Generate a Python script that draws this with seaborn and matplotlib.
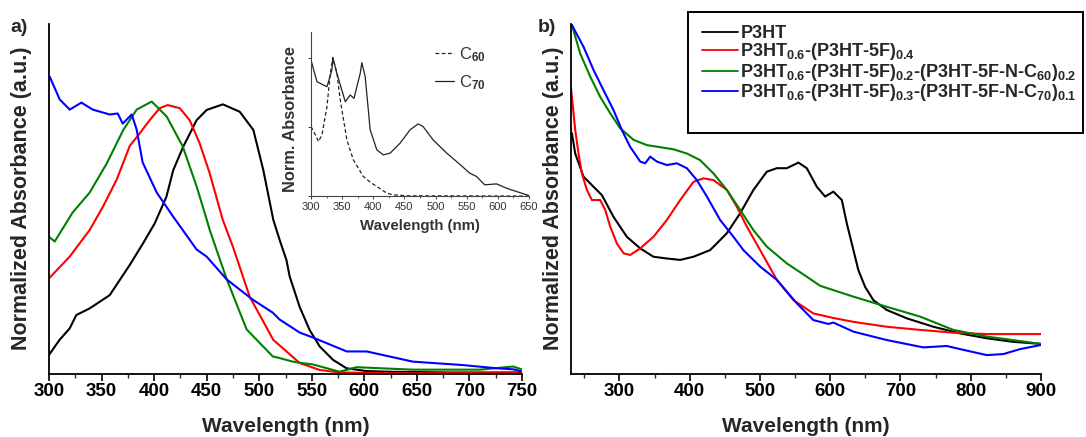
import numpy as np
import pandas as pd
import matplotlib
matplotlib.use("Agg")
import matplotlib.pyplot as plt
import seaborn as sns
from matplotlib.ticker import MultipleLocator
from matplotlib.lines import Line2D
from matplotlib.patches import Rectangle

# ---------------- Panel a data (normalized absorbance) ----------------
a_black_wl = [300, 310, 319.7, 326, 338.7, 357.8, 376.8, 389.5, 400.6, 411.7, 418.2, 427.7, 440.5, 450, 465.4,
              481.4, 494.4, 503.9, 513.4, 519.5, 525.9, 529, 538.5, 548, 557.6, 570.2, 583, 602, 624, 680, 750]
a_black = [0.053, 0.096, 0.129, 0.167, 0.186, 0.224, 0.31, 0.372, 0.429, 0.505, 0.581, 0.648, 0.724, 0.753, 0.769,
           0.748, 0.696, 0.581, 0.439, 0.381, 0.324, 0.277, 0.19, 0.124, 0.077, 0.039, 0.015, 0.007, 0.005, 0.003, 0.003]

a_red_wl = [300.7, 319.7, 338.7, 351.4, 364.4, 376.8, 386.3, 395.8, 405.3, 412.9, 424.4, 433.8, 443.3, 452.9,
            465.2, 475, 491, 513.4, 538.5, 557.6, 576.5, 620, 750]
a_red = [0.274, 0.334, 0.41, 0.477, 0.554, 0.65, 0.686, 0.724, 0.758, 0.767, 0.758, 0.724, 0.658, 0.572,
         0.44, 0.362, 0.219, 0.096, 0.03, 0.01, 0.003, 0.001, 0.001]

a_green_wl = [300.7, 305.4, 322.5, 338.7, 354.9, 370.7, 383.4, 397.7, 412, 427.2, 440.5, 450, 452.9, 469, 488,
              512.8, 519.5, 531.8, 540, 551, 576.5, 592.5, 646, 709.8, 741.5, 749.5]
a_green = [0.389, 0.377, 0.46, 0.517, 0.6, 0.696, 0.754, 0.777, 0.734, 0.649, 0.534, 0.44, 0.41, 0.27, 0.126,
           0.049, 0.044, 0.034, 0.03, 0.026, 0.005, 0.018, 0.011, 0.011, 0.02, 0.012]

a_blue_wl = [300.7, 310.2, 319.7, 330.8, 341.6, 357.8, 365.4, 370.1, 378.7, 383.4, 389.1, 402.5, 417.7, 440.5,
             450, 469, 493.8, 512.8, 519.5, 538.5, 550.9, 583.3, 602.3, 646, 694, 725.6, 741.5, 749.5]
a_blue = [0.848, 0.783, 0.754, 0.774, 0.754, 0.74, 0.743, 0.714, 0.74, 0.697, 0.603, 0.517, 0.45, 0.354,
          0.334, 0.269, 0.211, 0.174, 0.154, 0.117, 0.103, 0.063, 0.063, 0.034, 0.024, 0.015, 0.012, 0.006]

# ---------------- Inset data (C60 / C70) ----------------
c70_wl = [300, 309.6, 320, 325.6, 333.6, 335, 341.6, 355, 363, 369, 379, 381.6, 387, 395, 405.7, 416, 427, 443,
          459, 472, 480, 496, 518, 533.7, 555, 565.8, 579, 597.8, 613.8, 629.8, 650]
c70 = [0.983, 0.827, 0.803, 0.791, 0.911, 1.0, 0.887, 0.683, 0.731, 0.707, 0.887, 0.964, 0.863, 0.48, 0.336,
       0.30, 0.312, 0.384, 0.48, 0.523, 0.504, 0.408, 0.312, 0.252, 0.168, 0.144, 0.084, 0.091, 0.06, 0.036, 0.007]

c60_wl = [300, 307, 312, 317.6, 325.6, 331, 335, 341.6, 347, 357.6, 368, 384, 396, 405.7, 421.7, 432, 453.7,
          550, 650]
c60 = [0.504, 0.444, 0.396, 0.444, 0.647, 0.887, 1.0, 0.887, 0.695, 0.408, 0.264, 0.144, 0.1, 0.072, 0.024,
       0.012, 0.005, 0.004, 0.003]

# ---------------- Panel b data ----------------
b_black_wl = [232.3, 237, 248.8, 263, 275, 291.5, 310.5, 329.5, 348.4, 367.4, 386.4, 405.3, 429, 452.8, 471.7,
              490.7, 509.7, 524, 538.2, 554.7, 566.6, 580.9, 592.7, 604.5, 616.5, 623.6, 633, 640, 649.6, 661.4,
              680.5, 709, 746.8, 784.8, 822.8, 860, 900]
b_black = [0.688, 0.63, 0.564, 0.535, 0.511, 0.449, 0.392, 0.359, 0.335, 0.33, 0.326, 0.335, 0.354, 0.402,
           0.459, 0.526, 0.578, 0.588, 0.588, 0.604, 0.588, 0.535, 0.507, 0.521, 0.497, 0.43, 0.354, 0.297,
           0.249, 0.211, 0.183, 0.159, 0.135, 0.116, 0.102, 0.092, 0.086]

b_red_wl = [231, 237, 241.7, 246.5, 253.6, 260.7, 272.5, 279.7, 286.8, 296.3, 305.7, 315.2, 329.5, 348.4, 367.4,
            386.4, 405.3, 419.5, 433.8, 452.8, 467, 481.3, 500.2, 524, 547.6, 576, 604.5, 633, 680.5, 727.9,
            775.2, 822.8, 900]
b_red = [0.817, 0.697, 0.63, 0.573, 0.526, 0.497, 0.497, 0.469, 0.421, 0.373, 0.345, 0.34, 0.359, 0.392, 0.44,
         0.497, 0.549, 0.559, 0.554, 0.526, 0.478, 0.421, 0.354, 0.269, 0.211, 0.173, 0.16, 0.149, 0.135, 0.126,
         0.118, 0.114, 0.114]

b_green_wl = [232.3, 244, 258.3, 272.5, 286.8, 301, 320, 339, 358, 376.8, 395.9, 414.8, 433.8, 452.8, 471.7,
              490.7, 509.7, 538.2, 566.6, 585.6, 633, 680.5, 727.9, 775.2, 822.8, 900]
b_green = [0.997, 0.916, 0.85, 0.792, 0.745, 0.702, 0.669, 0.654, 0.648, 0.642, 0.63, 0.611, 0.573, 0.526,
           0.469, 0.411, 0.364, 0.316, 0.278, 0.252, 0.221, 0.192, 0.164, 0.126, 0.107, 0.086]

b_blue_wl = [232.3, 248.8, 263, 277.2, 291.5, 303.4, 315.2, 329.5, 336.6, 343.7, 353.2, 367.4, 381.7, 395.9,
             410.1, 424.4, 443.3, 462.2, 476.4, 500.2, 524, 552.4, 576, 597.4, 604.5, 633, 680.5, 732.6, 765.8,
             789.5, 822.8, 846.4, 870.1, 900]
b_blue = [0.997, 0.935, 0.869, 0.811, 0.754, 0.697, 0.649, 0.607, 0.602, 0.621, 0.607, 0.597, 0.602, 0.588,
          0.554, 0.507, 0.44, 0.392, 0.354, 0.307, 0.269, 0.202, 0.154, 0.143, 0.147, 0.121, 0.097, 0.076, 0.08,
          0.069, 0.054, 0.057, 0.071, 0.083]

series_labels = ["P3HT",
                 r"P3HT$_{0.6}$-(P3HT-5F)$_{0.4}$",
                 r"P3HT$_{0.6}$-(P3HT-5F)$_{0.2}$-(P3HT-5F-N-C$_{60}$)$_{0.2}$",
                 r"P3HT$_{0.6}$-(P3HT-5F)$_{0.3}$-(P3HT-5F-N-C$_{70}$)$_{0.1}$"]
series_colors = ["#000000", "#ff0000", "#008000", "#0000ff"]
inset_labels = [r"C$_{\mathsf{60}}$", r"C$_{\mathsf{70}}$"]

# ---------------- Style ----------------
sns.set_style("ticks")
plt.rcParams['font.family'] = ['Liberation Sans', 'DejaVu Sans']
plt.rcParams['font.weight'] = 'bold'
plt.rcParams['mathtext.fontset'] = 'custom'
plt.rcParams['mathtext.rm'] = 'Liberation Sans:bold'
plt.rcParams['mathtext.it'] = 'Liberation Sans:bold'
plt.rcParams['mathtext.bf'] = 'Liberation Sans:bold'
plt.rcParams['mathtext.sf'] = 'Liberation Sans'
plt.rcParams['mathtext.default'] = 'rm'

W, H = 1086, 437
fig = plt.figure(figsize=(W / 100, H / 100), dpi=100)
axA = fig.add_axes([49 / W, 1 - 373.5 / H, 473 / W, 350 / H])
axB = fig.add_axes([571 / W, 1 - 374 / H, 470 / W, 350 / H])
axI = fig.add_axes([311 / W, 1 - 196.5 / H, 218 / W, 164.5 / H])
axI.set_facecolor("none")

LW = 1.5
for wl, v, c in zip([a_black_wl, a_red_wl, a_green_wl, a_blue_wl],
                    [a_black, a_red, a_green, a_blue], series_colors):
    sns.lineplot(x=wl, y=v, color=c, linewidth=LW, ax=axA, estimator=None)
for wl, v, c in zip([b_black_wl, b_red_wl, b_green_wl, b_blue_wl],
                    [b_black, b_red, b_green, b_blue], series_colors):
    sns.lineplot(x=wl, y=v, color=c, linewidth=LW, ax=axB, estimator=None)

sns.lineplot(x=c60_wl, y=c60, color="#222222", linewidth=0.9, linestyle=(0, (3, 2)), ax=axI, estimator=None)
sns.lineplot(x=c70_wl, y=c70, color="#222222", linewidth=0.9, ax=axI, estimator=None)

for ax, xl, maj, mnr in [(axA, (300, 750), 50, 25), (axB, (231, 900), 100, 50)]:
    ax.set_xlim(*xl)
    ax.set_ylim(0, 1)
    ax.xaxis.set_major_locator(MultipleLocator(maj))
    ax.xaxis.set_minor_locator(MultipleLocator(mnr))
    ax.set_yticks([])
    ax.set_xlabel("")
    ax.set_ylabel("")
    for s in ["top", "right"]:
        ax.spines[s].set_visible(False)
    for s in ["left", "bottom"]:
        ax.spines[s].set_linewidth(1.3)
        ax.spines[s].set_color("black")
    ax.tick_params(axis="x", which="major", direction="out", length=5, width=1.2, labelsize=13.5, pad=1.5,
                   colors="black")
    ax.tick_params(axis="x", which="minor", direction="out", length=3, width=1.0)
    for t in ax.get_xticklabels():
        t.set_fontweight("bold")

# inset
axI.set_xlim(300, 650)
axI.set_ylim(0, 1.185)
axI.xaxis.set_major_locator(MultipleLocator(50))
axI.xaxis.set_minor_locator(MultipleLocator(25))
axI.set_yticks([0, 0.5, 1.0])
axI.set_yticklabels([])
for s in ["top", "right"]:
    axI.spines[s].set_visible(False)
for s in ["left", "bottom"]:
    axI.spines[s].set_linewidth(0.8)
    axI.spines[s].set_color("#444444")
axI.tick_params(axis="x", which="major", direction="out", length=2.5, width=0.7, labelsize=8, pad=1.5,
                colors="#444444", labelcolor="#333333")
axI.tick_params(axis="x", which="minor", direction="out", length=1.5, width=0.6, colors="#444444")
axI.tick_params(axis="y", direction="out", length=2.5, width=0.7, colors="#444444")
for t in axI.get_xticklabels():
    t.set_fontweight("normal")
axI.set_xlabel("Wavelength (nm)", fontsize=10.8, fontweight="bold", color="#333333", labelpad=5)
axI.set_ylabel("Norm. Absorbance", fontsize=11.8, fontweight="bold", color="#333333", labelpad=1)
axI.yaxis.set_label_coords(-0.06, 0.47)
ih = [Line2D([], [], color="#222222", lw=0.9, linestyle=(0, (3, 2))),
      Line2D([], [], color="#222222", lw=0.9)]
legI = axI.legend(ih, inset_labels, loc="upper left", bbox_to_anchor=(0.57, 0.92), frameon=False,
                  prop={"size": 12, "weight": "normal"}, handlelength=1.1, handletextpad=0.3,
                  labelspacing=0.55, borderaxespad=0, borderpad=0)
for t in legI.get_texts():
    t.set_color("#333333")

# main legend (panel b) with a separate frame
mh = [Line2D([], [], color=c, lw=1.3) for c in series_colors]
leg = fig.legend(mh, series_labels, loc="upper left", bbox_to_anchor=(702 / W, 1 - 25 / H),
                 frameon=False, prop={"size": 13, "weight": "bold"}, handlelength=2.0,
                 handletextpad=0.12, borderpad=0, labelspacing=-0.03, borderaxespad=0)
fig.patches.append(Rectangle((688 / W, 1 - 133 / H), 395 / W, 121 / H, transform=fig.transFigure,
                             fill=False, edgecolor="black", linewidth=1.4))

# axis labels and panel letters
ylab = "Normalized Absorbance (a.u.)"
fig.text(22 / W, 1 - 198.5 / H, ylab, rotation=90, ha="center", va="center", fontsize=15.5, fontweight="bold")
fig.text(553 / W, 1 - 198.5 / H, ylab, rotation=90, ha="center", va="center", fontsize=15.5, fontweight="bold")
fig.text(285.5 / W, 4.5 / H, "Wavelength (nm)", ha="center", va="baseline", fontsize=15, fontweight="bold")
fig.text(806 / W, 4.5 / H, "Wavelength (nm)", ha="center", va="baseline", fontsize=15, fontweight="bold")
fig.text(10 / W, 1 - 27 / H, "a)", ha="left", va="center", fontsize=14, fontweight="bold")
fig.text(538 / W, 1 - 27 / H, "b)", ha="left", va="center", fontsize=14, fontweight="bold")

fig.savefig("out.png", dpi=100)
